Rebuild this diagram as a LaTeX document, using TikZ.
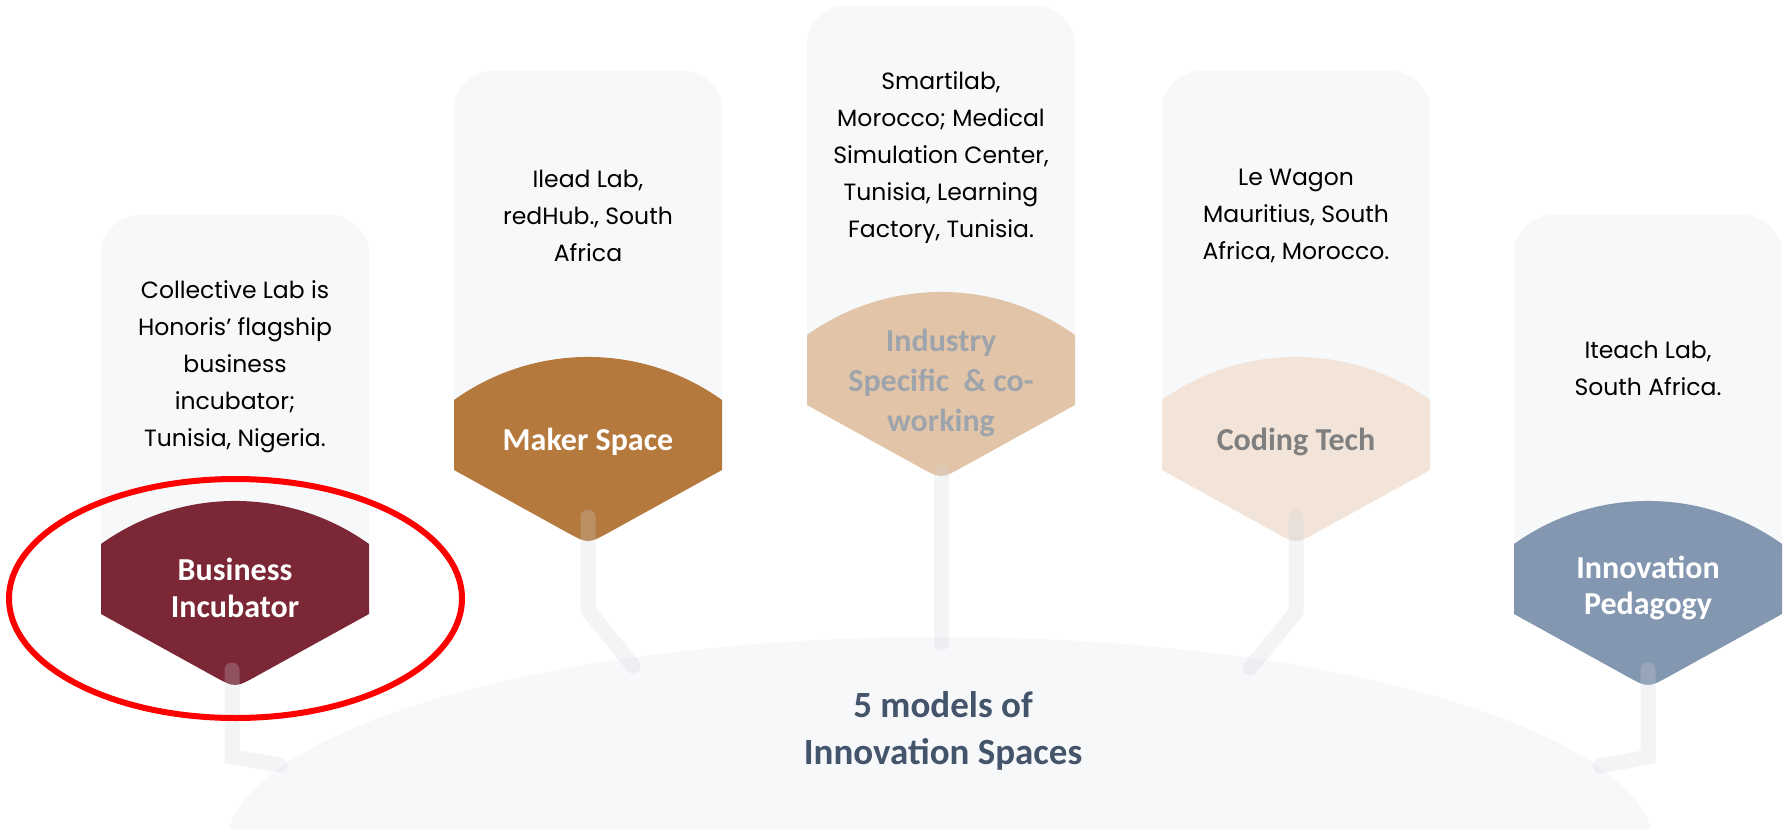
\documentclass[tikz,border=0pt]{standalone}
\usepackage{fontspec}
\setmainfont{Poppins}
\newfontfamily\calfont{Carlito}
\definecolor{boxbg}{HTML}{F7F8FA}
\definecolor{hubbg}{HTML}{F7F8FA}
\definecolor{stemgray}{HTML}{D0D4DC}
\definecolor{bicol}{HTML}{7B2735}
\definecolor{mscol}{HTML}{B5793D}
\definecolor{iscol}{HTML}{E2C5A8}
\definecolor{istext}{HTML}{9EA4AB}
\definecolor{ctcol}{HTML}{F2E4D8}
\definecolor{cttext}{HTML}{7F7F7F}
\definecolor{ipcol}{HTML}{8497B0}
\definecolor{hubtext}{HTML}{44546A}
\definecolor{markred}{HTML}{FF0000}
\tikzset{
  bodytext/.style={align=center, inner sep=0pt, text=black, font=\fontsize{23.5}{37}\selectfont},
  titletext/.style={align=center, inner sep=0pt, font=\calfont\bfseries\fontsize{32}{36.5}\selectfont},
  stemline/.style={draw=stemgray, draw opacity=0.25, line width=15pt, line cap=round, line join=miter},
}
\newcommand\innobox[3]{% cx, apex y, colour
\begin{scope}[shift={(#1,#2)}]
  \fill[boxbg] (-134,-140) -- (-134,-436) .. controls (-134,-456.4) and (-113.6,-473) .. (-97,-473)
     -- (97,-473) .. controls (113.6,-473) and (134,-456.4) .. (134,-436) -- (134,-140) -- cycle;
  \fill[#3] (-134,-144) .. controls (-53.8,-201.4) and (53.8,-201.4) .. (134,-144)
     -- (134,-74) -- (21.9,-12.1) .. controls (0,0) and (0,0) .. (-21.9,-12.1) -- (-134,-74) -- cycle;
\end{scope}}
\begin{document}
\begin{tikzpicture}[x=1pt,y=-1pt]
\useasboundingbox (0,0) rectangle (1787,829);
\clip (0,0) rectangle (1787,829);
\fill[white] (0,0) rectangle (1787,829);
% hub
\fill[hubbg] (940,850) ellipse [x radius=715pt, y radius=213pt];
% boxes
\innobox{235}{688}{bicol}
\innobox{588}{544}{mscol}
\innobox{941}{479}{iscol}
\innobox{1296}{544}{ctcol}
\innobox{1648}{688}{ipcol}
% body texts
\node[bodytext] (txt1) at (235,367) {Collective Lab is\\Honoris’ flagship\\business\\incubator;\\Tunisia, Nigeria.};
\node[bodytext] (txt2) at (588,216) {Ilead Lab,\\redHub., South\\Africa};
\node[bodytext] (txt3) at (941,158) {Smartilab,\\Morocco; Medical\\Simulation Center,\\Tunisia, Learning\\Factory, Tunisia.};
\node[bodytext] (txt4) at (1296,216) {Le Wagon\\Mauritius, South\\Africa, Morocco.};
\node[bodytext] (txt5) at (1648,368) {Iteach Lab,\\South Africa.};
% titles
\node[titletext, text=white] (ttl1) at (235,588) {Business\\Incubator};
\node[titletext, text=white] (ttl2) at (588,442) {Maker Space};
\node[titletext, text=istext, font=\calfont\bfseries\fontsize{32}{40}\selectfont] (ttl3) at (941,383) {Industry\\Specific~~\& co-\\working};
\node[titletext, text=cttext] (ttl4) at (1296,442) {Coding Tech};
\node[titletext, text=white] (ttl5) at (1648,588) {Innovation\\Pedagogy};
% stems
\coordinate (s1a) at (232,670); \coordinate (s1b) at (232,757); \coordinate (s1c) at (280,765);
\coordinate (s2a) at (588,517); \coordinate (s2b) at (588,610); \coordinate (s2c) at (633,666);
\coordinate (s3a) at (941,472); \coordinate (s3b) at (941,643);
\coordinate (s4a) at (1296,517); \coordinate (s4b) at (1296,612); \coordinate (s4c) at (1250,668);
\coordinate (s5a) at (1648,670); \coordinate (s5b) at (1648,757); \coordinate (s5c) at (1600,766);
\draw[stemline] (s1a) -- (s1b) -- (s1c);
\draw[stemline] (s2a) -- (s2b) -- (s2c);
\draw[stemline] (s3a) -- (s3b);
\draw[stemline] (s4a) -- (s4b) -- (s4c);
\draw[stemline] (s5a) -- (s5b) -- (s5c);
% hub text
\node[align=center, inner sep=0pt, text=hubtext, font=\calfont\bfseries\fontsize{37}{47}\selectfont] (hub) at (943,731) {5 models of\\Innovation Spaces};
% highlight
\draw[markred, line width=6pt] (235.5,598.5) ellipse [x radius=226.5pt, y radius=119.5pt];
\end{tikzpicture}
\end{document}
